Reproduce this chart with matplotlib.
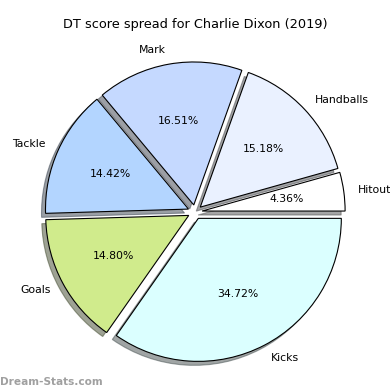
import matplotlib
matplotlib.use('Agg')
import matplotlib.pyplot as plt

# === Data ===
labels = ['Hitout', 'Handballs', 'Mark', 'Tackle', 'Goals', 'Kicks']
values = [4.36, 15.18, 16.51, 14.42, 14.80, 34.72]
colors = ['#ffffff', '#eaf1ff', '#c5d9ff', '#b3d5ff', '#d0eb8c', '#dbffff']
explode = [0.05] * len(labels)

# === Plot ===
fig = plt.figure(figsize=(3.9, 3.9), dpi=100)
ax = fig.add_axes([0.0417, -0.002, 0.9167, 0.9167])
ax.pie(values, labels=labels, colors=colors, explode=explode, autopct='%1.2f%%',
       shadow=True, startangle=0,
       wedgeprops={'edgecolor': 'black', 'linewidth': 0.8},
       textprops={'fontsize': 7.8})
ax.set_xlim(-1.25, 1.25)
ax.set_ylim(-1.25, 1.25)
ax.set_aspect('equal')

fig.text(0.5, 0.936, 'DT score spread for Charlie Dixon (2019)', fontsize=9.3,
         ha='center', va='center')
fig.text(0.0, 0.012, 'Dream-Stats.com', color='#a0a0a0', fontsize=7.6, fontweight='bold')

plt.savefig('out.png', dpi=100)
